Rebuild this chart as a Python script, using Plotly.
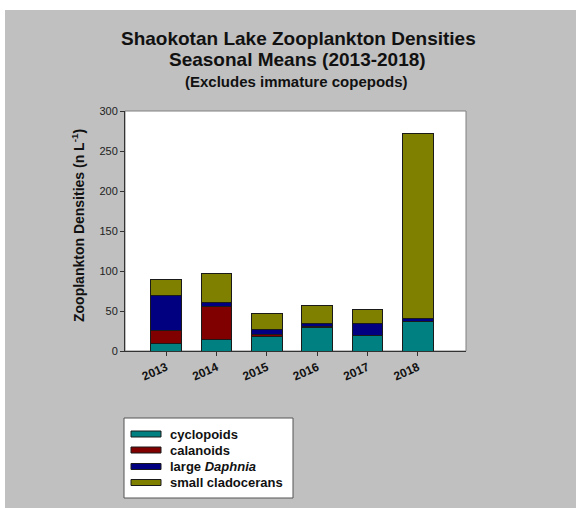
import plotly.graph_objects as go

years = ["2013", "2014", "2015", "2016", "2017", "2018"]
cyclopoids = [9, 15, 18.5, 30, 19, 36.5]
calanoids = [17, 41, 2, 0.5, 0.5, 0.5]
large_daphnia = [43.5, 5, 7, 4, 15, 4]
small_cladocerans = [20.5, 36, 19, 23, 18, 231]

series_names = ["cyclopoids", "calanoids", "large <i>Daphnia</i>", "small cladocerans"]
series_values = [cyclopoids, calanoids, large_daphnia, small_cladocerans]
series_colors = ["#008080", "#800000", "#000080", "#808000"]

W, H = 576, 508
L, R, T, B = 125, 466, 111, 351

def px(x):
    return (x - L) / (R - L)

def py(y):
    return (B - y) / (B - T)

FONT = "Arial, Liberation Sans, sans-serif"

fig = go.Figure()
for name, vals, col in zip(series_names, series_values, series_colors):
    fig.add_trace(go.Bar(
        x=years, y=vals, name=name, width=0.61,
        marker=dict(color=col, line=dict(color="#1a1a1a", width=1)),
        showlegend=False,
    ))

shapes = []
# white strips around grey background
shapes.append(dict(type="rect", xref="paper", yref="paper", x0=px(0), x1=px(5), y0=py(W), y1=py(0),
                   fillcolor="white", line=dict(width=0), layer="below"))
shapes.append(dict(type="rect", xref="paper", yref="paper", x0=px(0), x1=px(W), y0=py(10), y1=py(0),
                   fillcolor="white", line=dict(width=0), layer="below"))
# plot border (top/right grey)
shapes.append(dict(type="rect", xref="paper", yref="paper", x0=0, x1=1, y0=0, y1=1,
                   line=dict(color="#808080", width=1), layer="below"))
# legend box
shapes.append(dict(type="rect", xref="paper", yref="paper", x0=px(124), x1=px(293), y0=py(498), y1=py(418),
                   fillcolor="white", line=dict(color="#555555", width=1), layer="above"))

annotations = []
row_y = [434, 450, 466.5, 482.5]
for name, col, yy in zip(series_names, series_colors, row_y):
    shapes.append(dict(type="rect", xref="paper", yref="paper", x0=px(131), x1=px(161),
                       y0=py(yy + 3), y1=py(yy - 3), fillcolor=col,
                       line=dict(color="#1a1a1a", width=1), layer="above"))
    annotations.append(dict(xref="paper", yref="paper", x=px(168), y=py(yy), xanchor="left", yanchor="middle",
                            text="<b>" + name + "</b>", showarrow=False,
                            font=dict(family=FONT, size=13, color="#111111")))

# titles
annotations.append(dict(xref="paper", yref="paper", x=px(298), y=py(38.7), xanchor="center", yanchor="middle",
                        text="<b>Shaokotan Lake Zooplankton Densities</b>", showarrow=False,
                        font=dict(family=FONT, size=19, color="#111111")))
annotations.append(dict(xref="paper", yref="paper", x=px(297), y=py(59.5), xanchor="center", yanchor="middle",
                        text="<b>Seasonal Means (2013-2018)</b>", showarrow=False,
                        font=dict(family=FONT, size=19, color="#111111")))
annotations.append(dict(xref="paper", yref="paper", x=px(296), y=py(81.5), xanchor="center", yanchor="middle",
                        text="<b>(Excludes immature copepods)</b>", showarrow=False,
                        font=dict(family=FONT, size=15, color="#111111")))
# y title
annotations.append(dict(xref="paper", yref="paper", x=px(78), y=py(226), xanchor="center", yanchor="middle",
                        text="<b>Zooplankton Densities (n L<sup>-1</sup>)</b>", textangle=-90, showarrow=False,
                        font=dict(family=FONT, size=14, color="#111111")))

fig.update_layout(
    width=W, height=H,
    margin=dict(l=L, r=W - R, t=T, b=H - B, pad=0),
    paper_bgcolor="#c0c0c0", plot_bgcolor="white",
    barmode="stack", bargap=0.39,
    font=dict(family=FONT),
    shapes=shapes, annotations=annotations,
    xaxis=dict(type="category", range=[-0.82, 5.954], showline=True, linecolor="#333333", linewidth=1,
               ticks="outside", ticklen=4, tickcolor="#333333", tickangle=-24, showgrid=False, zeroline=False,
               tickfont=dict(family=FONT, size=12, color="#111111", weight="bold"), fixedrange=True),
    yaxis=dict(range=[0, 300], tickvals=[0, 50, 100, 150, 200, 250, 300], showline=True, linecolor="#333333",
               linewidth=1, ticks="outside", ticklen=4, tickcolor="#333333", showgrid=False, zeroline=False,
               tickfont=dict(family=FONT, size=11, color="#222222"), fixedrange=True),
)

fig.write_html("out.html", config={"displayModeBar": False},
               post_script="document.body.style.margin='0px';document.body.style.overflow='hidden';")
